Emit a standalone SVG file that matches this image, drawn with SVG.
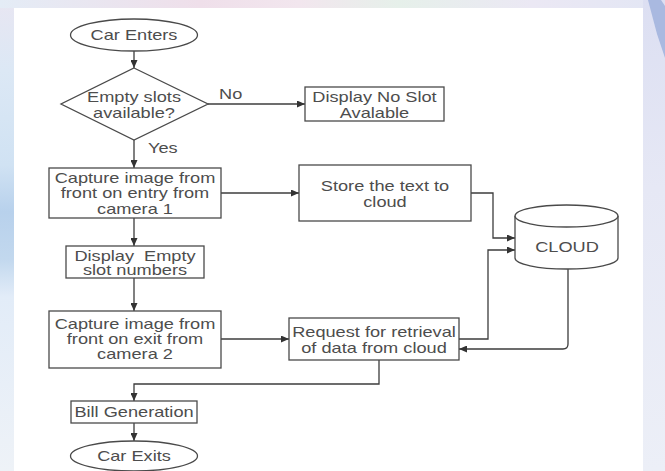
<svg xmlns="http://www.w3.org/2000/svg" width="665" height="471" viewBox="0 0 665 471">
  <defs>
    <linearGradient id="leftBg" x1="0" y1="0" x2="0" y2="1">
      <stop offset="0" stop-color="#e8e6f2"/>
      <stop offset="0.15" stop-color="#dce8f5"/>
      <stop offset="0.35" stop-color="#d0e2f3"/>
      <stop offset="0.45" stop-color="#b8d1ec"/>
      <stop offset="0.55" stop-color="#c2d8ee"/>
      <stop offset="0.63" stop-color="#e2ecf8"/>
      <stop offset="1" stop-color="#eef2f7"/>
    </linearGradient>
    <linearGradient id="topBg" x1="0" y1="0" x2="1" y2="0">
      <stop offset="0" stop-color="#e4ecf6"/>
      <stop offset="0.3" stop-color="#efdfea"/>
      <stop offset="0.45" stop-color="#f2e6ee"/>
      <stop offset="0.6" stop-color="#e6f0ea"/>
      <stop offset="0.8" stop-color="#ebe8f4"/>
      <stop offset="1" stop-color="#e2e6f4"/>
    </linearGradient>
    <linearGradient id="rightBg" x1="0" y1="0" x2="0" y2="1">
      <stop offset="0" stop-color="#dcdff2"/>
      <stop offset="0.4" stop-color="#e6e8f5"/>
      <stop offset="1" stop-color="#eceff7"/>
    </linearGradient>
    <marker id="arr" viewBox="0 0 8 7" refX="8" refY="3.5" markerWidth="8" markerHeight="7" markerUnits="userSpaceOnUse" orient="auto">
      <path d="M0,0 L8,3.5 L0,7 Z" fill="#333"/>
    </marker>
    <style>
      .shape { fill: #ffffff; stroke: #4a4a4a; stroke-width: 1.3; }
      .t { font-family: "Liberation Sans", Arial, sans-serif; font-size: 14px; fill: #4d4d4d; text-anchor: middle; }
      .ts { font-family: "Liberation Sans", Arial, sans-serif; font-size: 14px; fill: #4d4d4d; text-anchor: start; }
      .conn path { fill: none; stroke: #3c3c3c; stroke-width: 1.3; marker-end: url(#arr); }
    </style>
  </defs>

  <!-- page background -->
  <rect x="0" y="0" width="665" height="471" fill="#e8eef6"/>
  <rect x="0" y="0" width="14" height="471" fill="url(#leftBg)"/>
  <rect x="0" y="0" width="665" height="8" fill="url(#topBg)"/>
  <rect x="643" y="0" width="22" height="471" fill="url(#rightBg)"/>
  <polygon points="648,0 661,0 665,6 665,58 657,34" fill="#a9b9e0"/>
  <rect x="14" y="8" width="629" height="463" fill="#ffffff"/>

  <!-- connectors -->
  <g id="connectors" class="conn">
    <path d="M134 51 V68"/>
    <path d="M208 104 H305"/>
    <path d="M134 140 V168"/>
    <path d="M221 193 H299"/>
    <path d="M134 218 V246"/>
    <path d="M134 278 V311"/>
    <path d="M221 339 H289"/>
    <path d="M471 193 H493 V238 H515"/>
    <path d="M459 339 H488 V250 H515"/>
    <path d="M568 269 V344 Q568 349 563 349 H459"/>
    <path d="M379 360 V384 H134 V401"/>
    <path d="M134 423 V441"/>
  </g>

  <g id="car-enters">
    <ellipse class="shape" cx="134" cy="35" rx="63.5" ry="16"/>
    <text class="t" transform="matrix(1.3 0 0 1 134 40)">Car Enters</text>
  </g>

  <g id="decision">
    <polygon class="shape" points="134,68 208,104 134,140 61,104"/>
    <text class="t" transform="matrix(1.3 0 0 1 134 102)">Empty slots</text>
    <text class="t" transform="matrix(1.3 0 0 1 134 118)">available?</text>
  </g>

  <g id="label-no">
    <text class="ts" transform="matrix(1.3 0 0 1 219 99)">No</text>
  </g>

  <g id="label-yes">
    <text class="ts" transform="matrix(1.3 0 0 1 148 153)">Yes</text>
  </g>

  <g id="no-slot">
    <rect class="shape" x="305" y="87" width="139" height="34"/>
    <text class="t" transform="matrix(1.3 0 0 1 374.5 102)">Display No Slot</text>
    <text class="t" transform="matrix(1.3 0 0 1 374.5 118)">Avalable</text>
  </g>

  <g id="capture-entry">
    <rect class="shape" x="49" y="168" width="172" height="50"/>
    <text class="t" transform="matrix(1.3 0 0 1 135 183)">Capture image from</text>
    <text class="t" transform="matrix(1.3 0 0 1 135 198)">front on entry from</text>
    <text class="t" transform="matrix(1.3 0 0 1 135 214)">camera 1</text>
  </g>

  <g id="store">
    <rect class="shape" x="299" y="165" width="172" height="56"/>
    <text class="t" transform="matrix(1.3 0 0 1 385 191)">Store the text to</text>
    <text class="t" transform="matrix(1.3 0 0 1 385 207)">cloud</text>
  </g>

  <g id="display-empty">
    <rect class="shape" x="66" y="246" width="138" height="32"/>
    <text class="t" xml:space="preserve" transform="matrix(1.3 0 0 1 135 261)">Display  Empty</text>
    <text class="t" transform="matrix(1.3 0 0 1 135 275)">slot numbers</text>
  </g>

  <g id="cloud">
    <path class="shape" d="M515 216 V258 A51.5 11 0 0 0 618 258 V216"/>
    <ellipse class="shape" cx="566.5" cy="216" rx="51.5" ry="11"/>
    <text class="t" transform="matrix(1.3 0 0 1 567 252)">CLOUD</text>
  </g>

  <g id="capture-exit">
    <rect class="shape" x="49" y="311" width="172" height="57"/>
    <text class="t" transform="matrix(1.3 0 0 1 135 329)">Capture image from</text>
    <text class="t" transform="matrix(1.3 0 0 1 135 344)">front on exit from</text>
    <text class="t" transform="matrix(1.3 0 0 1 135 359)">camera 2</text>
  </g>

  <g id="request">
    <rect class="shape" x="289" y="318" width="170" height="42"/>
    <text class="t" transform="matrix(1.3 0 0 1 374 337)">Request for retrieval</text>
    <text class="t" transform="matrix(1.3 0 0 1 374 353)">of data from cloud</text>
  </g>

  <g id="bill">
    <rect class="shape" x="71" y="401" width="126" height="22"/>
    <text class="t" transform="matrix(1.3 0 0 1 134 417)">Bill Generation</text>
  </g>

  <g id="car-exits">
    <ellipse class="shape" cx="134" cy="456" rx="63.5" ry="15"/>
    <text class="t" transform="matrix(1.3 0 0 1 134 461)">Car Exits</text>
  </g>
</svg>
